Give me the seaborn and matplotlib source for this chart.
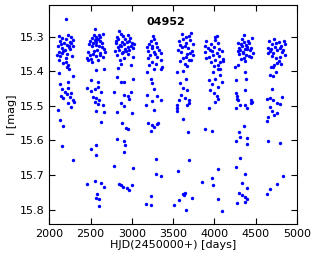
import numpy as np
import pandas as pd
import matplotlib
matplotlib.use('Agg')
import matplotlib.pyplot as plt
import seaborn as sns

# star id
star = '04952'

# season 1
s1_hjd = [2208, 2112, 2131, 2148, 2176, 2203, 2224, 2252, 2268, 2287, 2104, 2122, 2141, 2158, 2186, 2211,
          2236, 2262, 2291, 2099, 2127, 2152, 2169, 2197, 2219, 2246, 2272, 2116, 2163, 2206, 2241,
          2228, 2210, 2240, 2120, 2285, 2130, 2225, 2150, 2230, 2190, 2260, 2140, 2210, 2250, 2165,
          2285, 2228, 2265, 2298, 2105, 2130, 2165, 2150, 2290]
s1_mag = [15.248, 15.298, 15.312, 15.305, 15.318, 15.308, 15.296, 15.314, 15.302, 15.309, 15.327, 15.343, 15.322, 15.334, 15.338, 15.324,
          15.331, 15.317, 15.328, 15.352, 15.357, 15.346, 15.341, 15.362, 15.349, 15.336, 15.355, 15.368, 15.376, 15.372, 15.326,
          15.382, 15.389, 15.393, 15.406, 15.414, 15.437, 15.432, 15.452, 15.447, 15.459, 15.463, 15.471, 15.466, 15.474, 15.478,
          15.484, 15.493, 15.503, 15.489, 15.512, 15.541, 15.559, 15.616, 15.656]

# season 2
s2_hjd = [2548, 2541, 2562, 2578, 2603, 2619, 2652, 2522, 2498, 2553, 2571, 2592, 2608, 2633, 2482, 2529,
          2561, 2598, 2641, 2668, 2471, 2512, 2546, 2582, 2618, 2679, 2461, 2489, 2531, 2566, 2611,
          2468, 2502, 2649, 2519, 2589,
          2568, 2668, 2508, 2590, 2456, 2548, 2588, 2628, 2500, 2528, 2568, 2600, 2548, 2588, 2648,
          2560, 2668, 2628, 2560, 2508, 2568, 2456, 2548, 2628, 2668, 2576, 2568, 2600, 2600]
s2_mag = [15.278, 15.296, 15.302, 15.307, 15.294, 15.301, 15.292, 15.304, 15.312, 15.309, 15.314, 15.306, 15.311, 15.317, 15.321, 15.318,
          15.324, 15.327, 15.331, 15.336, 15.344, 15.328, 15.341, 15.338, 15.346, 15.343, 15.362, 15.352, 15.349, 15.357, 15.354,
          15.368, 15.364, 15.359, 15.372, 15.366,
          15.397, 15.394, 15.425, 15.432, 15.447, 15.452, 15.445, 15.461, 15.458, 15.474, 15.478, 15.483, 15.489, 15.494, 15.498,
          15.515, 15.519, 15.546, 15.612, 15.625, 15.643, 15.725, 15.718, 15.722, 15.734, 15.754, 15.768, 15.771, 15.790]

# season 3
s3_hjd = [2848, 2872, 2822, 2898, 2951, 2978, 2802, 2838, 2881, 2918, 2962, 2998, 3021, 2812, 2858, 2903,
          2941, 2986, 2829, 2868, 2912, 2948, 3008, 2801, 2846, 2892, 2928, 2971, 2818, 2879, 2958,
          2852, 2899, 3018, 2992, 2831, 2868,
          2816, 2868, 2908, 3016, 2788, 2908, 2948, 2988, 2960, 2868, 2908, 2816, 3000, 2880, 2928,
          2948, 2816, 2908, 2920, 2908, 3008, 2788, 2848, 2868, 2896, 2936, 2968, 3000]
s3_mag = [15.283, 15.291, 15.302, 15.297, 15.294, 15.304, 15.312, 15.308, 15.314, 15.306, 15.311, 15.317, 15.322, 15.318, 15.324, 15.321,
          15.316, 15.326, 15.331, 15.328, 15.336, 15.329, 15.333, 15.342, 15.338, 15.344, 15.341, 15.337, 15.352, 15.347, 15.349,
          15.367, 15.362, 15.358, 15.382, 15.391, 15.378,
          15.416, 15.430, 15.432, 15.423, 15.459, 15.468, 15.472, 15.459, 15.481, 15.493, 15.501, 15.519, 15.520, 15.549, 15.563,
          15.566, 15.597, 15.601, 15.613, 15.635, 15.681, 15.675, 15.725, 15.728, 15.734, 15.739, 15.744, 15.730]

# season 4
s4_hjd = [3252, 3271, 3229, 3292, 3208, 3248, 3182, 3241, 3302, 3198, 3262, 3331, 3358, 3221, 3279, 3191,
          3309, 3352, 3238, 3289, 3202, 3362,
          3188, 3268, 3348, 3228, 3248, 3268, 3188, 3300, 3248, 3348, 3168, 3268, 3196, 3248, 3300,
          3320, 3228, 3270, 3288, 3288, 3348, 3168, 3228, 3228]
s4_mag = [15.298, 15.307, 15.312, 15.318, 15.322, 15.326, 15.331, 15.334, 15.329, 15.341, 15.344, 15.338, 15.348, 15.353, 15.349, 15.361,
          15.358, 15.367, 15.372, 15.379, 15.382, 15.388,
          15.402, 15.394, 15.392, 15.421, 15.433, 15.450, 15.469, 15.472, 15.486, 15.483, 15.498, 15.512, 15.551, 15.556, 15.553,
          15.550, 15.573, 15.561, 15.655, 15.696, 15.703, 15.785, 15.787, 15.761]

# season 5
s5_hjd = [3602, 3718, 3651, 3689, 3572, 3621, 3659, 3702, 3738, 3581, 3612, 3641, 3679, 3722, 3562, 3598,
          3662, 3699, 3742, 3619, 3652, 3691, 3588, 3719, 3639, 3671,
          3548, 3620, 3660, 3588, 3620, 3668, 3600, 3568, 3640, 3548, 3548, 3548, 3688, 3696, 3665,
          3620, 3680, 3560, 3688, 3508, 3568, 3616, 3628, 3640, 3656, 3728]
s5_mag = [15.292, 15.289, 15.301, 15.298, 15.312, 15.306, 15.318, 15.309, 15.321, 15.324, 15.331, 15.327, 15.334, 15.342, 15.338, 15.345,
          15.351, 15.347, 15.354, 15.362, 15.358, 15.368, 15.371, 15.366, 15.378, 15.384,
          15.401, 15.398, 15.421, 15.435, 15.449, 15.454, 15.468, 15.483, 15.476, 15.498, 15.506, 15.515, 15.483, 15.493, 15.497,
          15.538, 15.575, 15.688, 15.657, 15.787, 15.773, 15.754, 15.757, 15.752, 15.802, 15.766]

# season 6
s6_hjd = [4002, 4031, 3902, 4012, 3958, 3882, 4041, 3921, 3969, 3998, 4061, 3891, 3942, 4028, 4089, 3901,
          3981, 4052, 4098, 3932, 4009, 4071, 3962, 4039, 4108, 3991, 4062,
          4048, 3988, 4068, 3928, 4008, 3968, 4040, 3948, 3990, 4030, 4008, 4040, 3928, 4088,
          3880, 3968, 4048, 3848, 3968, 3980, 4048, 4088]
s6_mag = [15.302, 15.298, 15.312, 15.309, 15.321, 15.326, 15.317, 15.333, 15.341, 15.329, 15.336, 15.344, 15.339, 15.346, 15.342, 15.361,
          15.352, 15.356, 15.364, 15.359, 15.367, 15.372, 15.374, 15.381, 15.369, 15.385, 15.392,
          15.392, 15.401, 15.412, 15.425, 15.421, 15.438, 15.445, 15.454, 15.462, 15.471, 15.488, 15.480, 15.505, 15.432,
          15.567, 15.573, 15.684, 15.720, 15.710, 15.730, 15.770, 15.804]

# season 7
s7_hjd = [4361, 4332, 4402, 4451, 4289, 4321, 4352, 4379, 4418, 4302, 4339, 4371, 4398, 4441, 4282, 4311,
          4348, 4391, 4429, 4462, 4298, 4342, 4381, 4422, 4359, 4448, 4319, 4291, 4372,
          4248, 4368, 4380, 4256, 4368, 4265, 4276, 4276, 4290, 4310, 4256, 4368, 4396, 4448, 4448, 4460,
          4296, 4356, 4256, 4308, 4388, 4396, 4308, 4256, 4368, 4328, 4388, 4296, 4328, 4368, 4400, 4276, 4372]
s7_mag = [15.296, 15.308, 15.311, 15.304, 15.318, 15.322, 15.316, 15.324, 15.319, 15.332, 15.327, 15.335, 15.329, 15.333, 15.341, 15.338,
          15.343, 15.336, 15.339, 15.346, 15.351, 15.348, 15.353, 15.356, 15.361, 15.358, 15.364, 15.382, 15.371,
          15.387, 15.401, 15.423, 15.425, 15.454, 15.464, 15.472, 15.479, 15.484, 15.498, 15.505, 15.498, 15.505, 15.483, 15.493, 15.488,
          15.575, 15.559, 15.601, 15.591, 15.592, 15.611, 15.652, 15.678, 15.696, 15.724, 15.738, 15.751, 15.758, 15.763, 15.770, 15.781, 15.778]

# season 8
s8_hjd = [4662, 4718, 4781, 4838, 4702, 4748, 4811, 4858, 4651, 4682, 4731, 4789, 4829, 4668, 4709, 4761,
          4818, 4852, 4649, 4701, 4742, 4799, 4778, 4762, 4721, 4809, 4679,
          4712, 4672, 4712, 4740, 4700, 4636, 4672, 4712, 4752, 4792, 4812, 4672, 4692, 4720, 4760,
          4636, 4644, 4644, 4792, 4836, 4756, 4676, 4636]
s8_mag = [15.312, 15.308, 15.314, 15.311, 15.322, 15.318, 15.326, 15.321, 15.332, 15.336, 15.329, 15.334, 15.338, 15.342, 15.346, 15.339,
          15.344, 15.352, 15.348, 15.355, 15.361, 15.358, 15.369, 15.376, 15.381, 15.378, 15.388,
          15.387, 15.411, 15.415, 15.401, 15.450, 15.481, 15.478, 15.484, 15.493, 15.496, 15.473, 15.503, 15.516, 15.527, 15.521,
          15.543, 15.531, 15.601, 15.607, 15.703, 15.727, 15.741, 15.754]

hjd = s1_hjd + s2_hjd + s3_hjd + s4_hjd + s5_hjd + s6_hjd + s7_hjd + s8_hjd
mag = s1_mag + s2_mag + s3_mag + s4_mag + s5_mag + s6_mag + s7_mag + s8_mag
df = pd.DataFrame({'hjd': hjd, 'mag': mag})

plt.rcParams['font.family'] = ['DejaVu Sans']
plt.rcParams['font.size'] = 8

fig = plt.figure(figsize=(3.16, 2.59), dpi=100)
ax = fig.add_axes([0.156, 0.135, 0.784, 0.846])

sns.scatterplot(data=df, x='hjd', y='mag', ax=ax, color='#0000ff', s=6, linewidth=0)

ax.set_xlim(2000, 5000)
ax.set_ylim(15.842, 15.208)
ax.set_xticks([2000, 2500, 3000, 3500, 4000, 4500, 5000])
ax.set_yticks([15.3, 15.4, 15.5, 15.6, 15.7, 15.8])
ax.tick_params(direction='in', top=True, right=True, length=4, labelsize=8)
ax.set_xlabel('HJD(2450000+) [days]', fontsize=8, labelpad=1)
ax.set_ylabel('I [mag]', fontsize=8, labelpad=2)
ax.text(0.47, 0.92, star, transform=ax.transAxes, ha='center', va='center',
        fontsize=8, fontweight='bold')

plt.savefig('out.png', dpi=100)
